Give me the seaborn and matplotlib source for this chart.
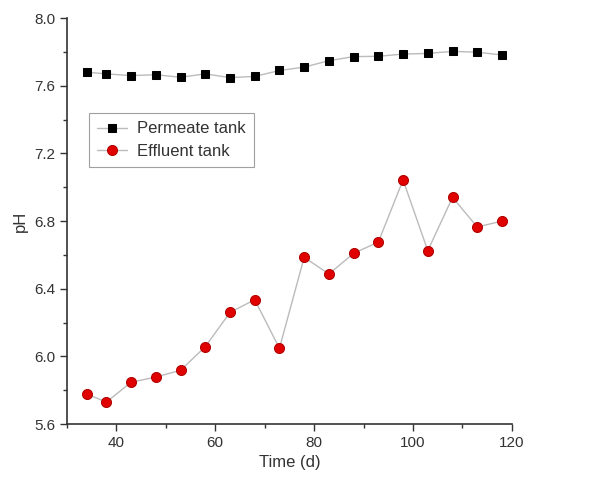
import matplotlib
matplotlib.use("Agg")
import matplotlib.pyplot as plt
import seaborn as sns
import pandas as pd
from matplotlib.ticker import MultipleLocator

time_d = [34, 38, 43, 48, 53, 58, 63, 68, 73, 78, 83, 88, 93, 98, 103, 108, 113, 118]
permeate_ph = [7.68, 7.67, 7.66, 7.665, 7.65, 7.67, 7.648, 7.655, 7.69, 7.71, 7.748, 7.772, 7.774, 7.787, 7.791, 7.803, 7.798, 7.782]
effluent_ph = [5.778, 5.73, 5.847, 5.878, 5.918, 6.057, 6.26, 6.335, 6.048, 6.586, 6.487, 6.609, 6.676, 7.043, 6.625, 6.94, 6.765, 6.80]
series_names = ["Permeate tank", "Effluent tank"]

sns.set_theme(style="ticks")
plt.rcParams['font.family'] = ['Liberation Sans', 'DejaVu Sans']

df = pd.DataFrame({
    "Time (d)": time_d * 2,
    "pH": permeate_ph + effluent_ph,
    "series": [series_names[0]] * len(time_d) + [series_names[1]] * len(time_d),
})

fig = plt.figure(figsize=(6.13, 4.88), dpi=100)
ax = fig.add_axes([0.109, 0.131, 0.726, 0.832])

sns.lineplot(data=df[df.series == series_names[0]], x="Time (d)", y="pH", ax=ax,
             color="#bbbbbb", linewidth=1.0, marker="s", markersize=6.2,
             markerfacecolor="black", markeredgecolor="black", label=series_names[0])
sns.lineplot(data=df[df.series == series_names[1]], x="Time (d)", y="pH", ax=ax,
             color="#bbbbbb", linewidth=1.0, marker="o", markersize=7.2,
             markerfacecolor="#e00000", markeredgecolor="#b00000", label=series_names[1])

ax.set_xlim(30, 120)
ax.set_ylim(5.6, 8.0)
ax.xaxis.set_major_locator(MultipleLocator(20))
ax.xaxis.set_minor_locator(MultipleLocator(10))
ax.yaxis.set_major_locator(MultipleLocator(0.4))
ax.yaxis.set_minor_locator(MultipleLocator(0.2))
ax.yaxis.set_major_formatter(matplotlib.ticker.FormatStrFormatter('%.1f'))
ax.tick_params(which="major", direction="out", length=5, width=1, labelsize=11, colors="#333333")
ax.tick_params(which="minor", direction="out", length=3, width=1, colors="#333333")
for s in ["top", "right"]:
    ax.spines[s].set_visible(False)
for s in ["left", "bottom"]:
    ax.spines[s].set_color("#333333")
    ax.spines[s].set_linewidth(1.2)
ax.set_xlabel("Time (d)", fontsize=12, color="#333333")
ax.set_ylabel("pH", fontsize=12, color="#333333")

leg = ax.legend(loc="upper left", bbox_to_anchor=(0.049, 0.766), borderaxespad=0,
                fontsize=12, frameon=True, fancybox=False, borderpad=0.5,
                handlelength=1.8, handletextpad=0.6, labelspacing=0.45)
leg.get_frame().set_edgecolor("#888888")
leg.get_frame().set_linewidth(0.8)
for t in leg.get_texts():
    t.set_color("#333333")

fig.savefig("out.png", dpi=100)
